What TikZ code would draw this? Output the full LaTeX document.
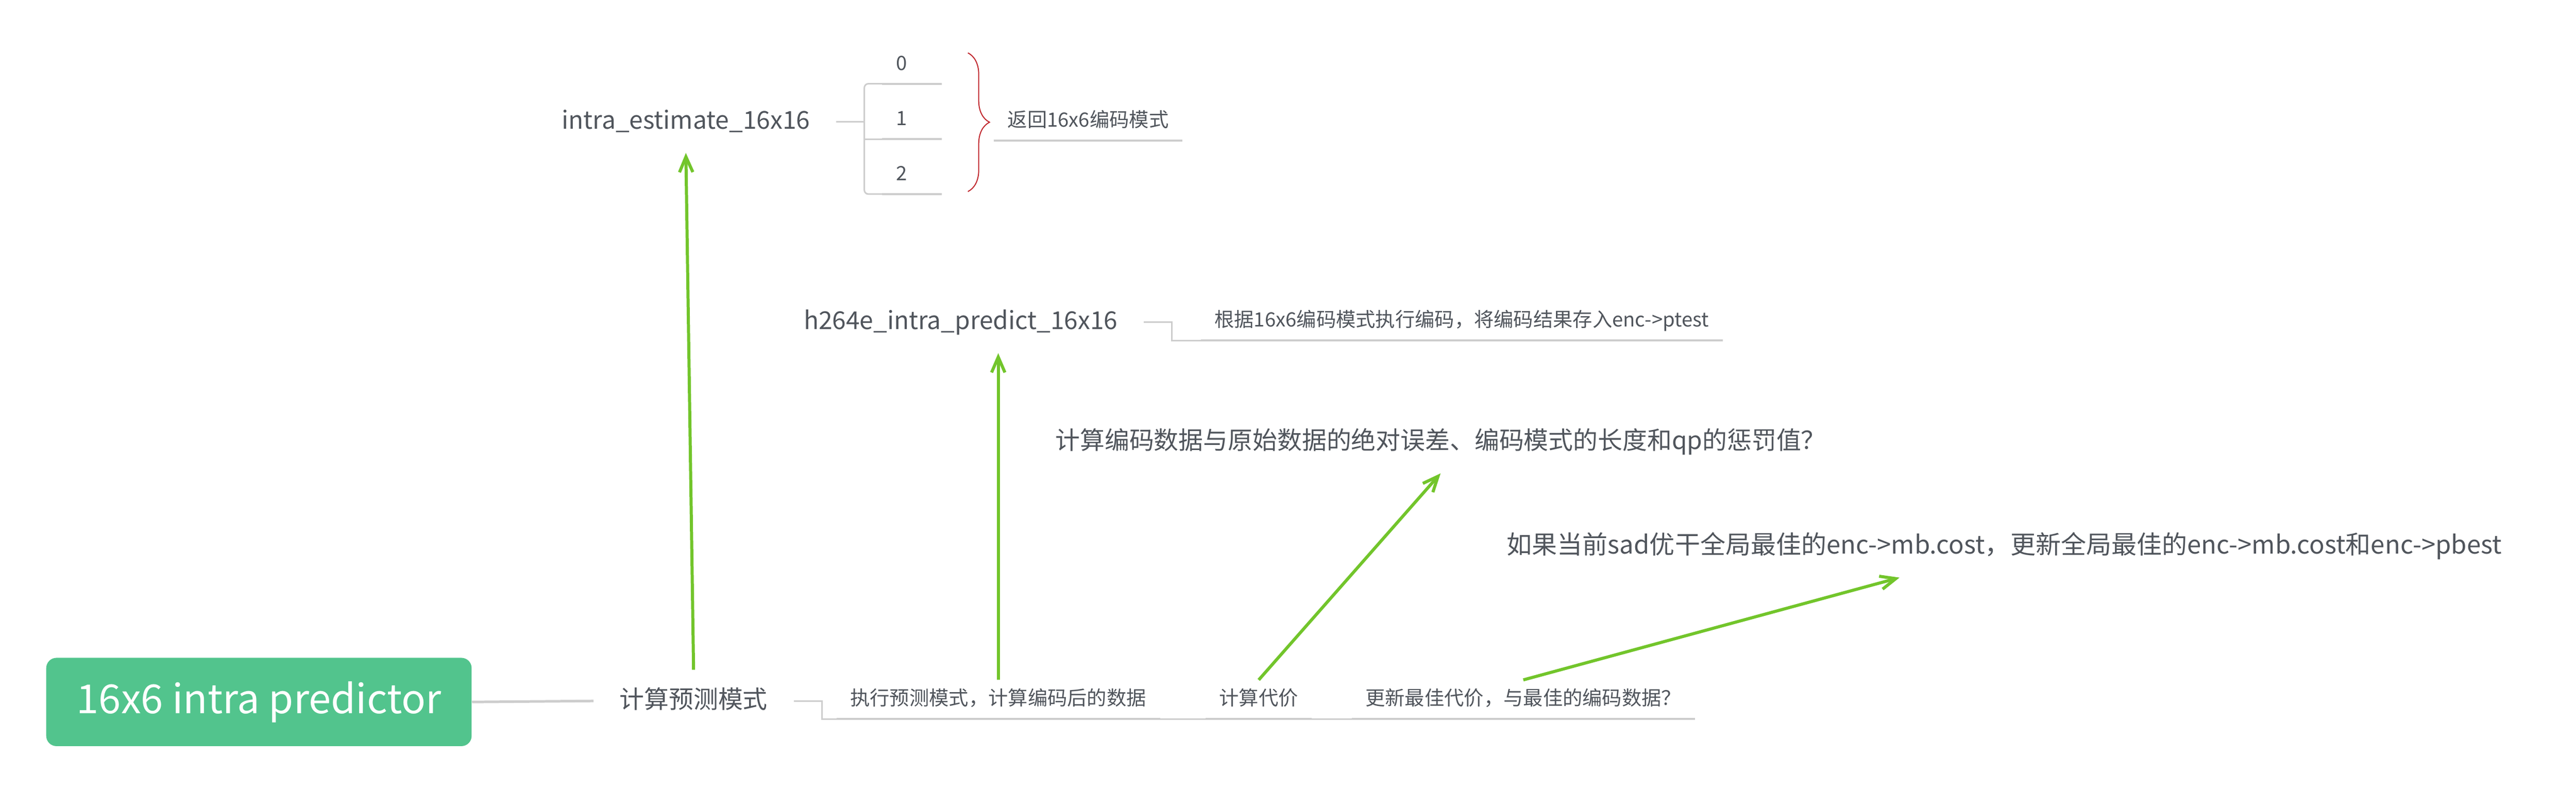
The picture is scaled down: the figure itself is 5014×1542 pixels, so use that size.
\documentclass[tikz,border=0pt]{standalone}
\usepackage{fontspec}
\setmainfont{Noto Sans CJK SC}
\usetikzlibrary{arrows.meta,calc,decorations.pathreplacing}
\definecolor{rootgreen}{HTML}{52C48D}
\definecolor{arrowgreen}{HTML}{72C52B}
\definecolor{linegray}{HTML}{CDCDCD}
\definecolor{textgray}{HTML}{50555C}
\definecolor{bracered}{HTML}{C0272D}
\tikzset{
  topic/.style={shape=rectangle,fill=rootgreen,rounded corners=5pt,minimum width=207pt,minimum height=43pt,text=white,font=\fontsize{19.5pt}{23pt}\selectfont},
  main/.style={text=textgray,font=\fontsize{12pt}{14pt}\selectfont,text height=9.6pt,text depth=2.4pt,inner xsep=12.5pt,inner ysep=9pt},
  sub/.style={text=textgray,font=\fontsize{9.6pt}{11.5pt}\selectfont,text height=7.7pt,text depth=1.9pt,inner xsep=6.5pt,inner ysep=4.5pt},
  link/.style={draw=linegray,line width=0.75pt},
  uline/.style={draw=linegray,line width=1pt},
  flow/.style={draw=arrowgreen,line width=1.5pt,-{Straight Barb[length=7.5pt,width=6.5pt,line width=1.5pt]}},
  brace/.style={draw=bracered,line width=0.5pt,decorate,decoration={brace,amplitude=10.5pt}}
}
\begin{document}
\begin{tikzpicture}[x=0.25pt,y=-0.25pt]
\useasboundingbox (0,0) rectangle (5014,1542);
\node[topic] (root) at (504,1367) {16x6 intra predictor};
\node[main] (calc) at (1350,1365) {计算预测模式};
\node[main] (est) at (1335,237) {intra\_estimate\_16x16};
\node[sub,text width=15.5pt,align=left] (c0) at (1775,125) {0};
\node[sub,text width=15.5pt,align=left] (c1) at (1775,233) {1};
\node[sub,text width=15.5pt,align=left] (c2) at (1775,340) {2};
\node[sub] (ret) at (2118,236) {返回16x6编码模式};
\node[main] (pred) at (1870,627) {h264e\_intra\_predict\_16x16};
\node[sub] (enc) at (2845,625) {根据16x6编码模式执行编码，将编码结果存入enc->ptest};
\node[sub] (exe) at (1943,1362) {执行预测模式，计算编码后的数据};
\node[sub] (cost) at (2450,1362) {计算代价};
\node[sub] (upd) at (2965,1362) {更新最佳代价，与最佳的编码数据？};
\node[main] (sad) at (2804,861) {计算编码数据与原始数据的绝对误差、编码模式的长度和qp的惩罚值？};
\node[main,font=\fontsize{12.3pt}{14pt}\selectfont] (best) at (3901,1064) {如果当前sad优干全局最佳的enc->mb.cost，更新全局最佳的enc->mb.cost和enc->pbest};
\coordinate (bracetop) at (1884,103);
\coordinate (bracebot) at (1884,373);

\draw [link,line width=1.25pt] (root.east) -- (calc.west);
\draw [link] (calc.east) -- ++(55,0) |- (upd.south east);
\draw [link] (pred.east) -- ++(55,0) |- (enc.south east);
\draw [link] (est.east) -- ++(55,0) coordinate (fork);
\draw [link,rounded corners=2pt] (fork) |- (c0.south east);
\draw [link] (fork) |- (c1.south east);
\draw [link,rounded corners=2pt] (fork) |- (c2.south east);
\foreach \n in {c0,c1,c2,ret,enc,exe,cost,upd}
  \draw [uline] (\n.south west) -- (\n.south east);
\draw [brace] (bracetop) -- (bracebot);

\draw [flow] (calc.north) -- (est.south);
\draw [flow] (exe.north) -- (exe.north |- pred.south);
\draw [flow] (cost.north) -- (sad.south);
\draw [flow] (upd.north) -- ($(best.south west)!0.4!(best.south east)$);
\end{tikzpicture}
\end{document}
